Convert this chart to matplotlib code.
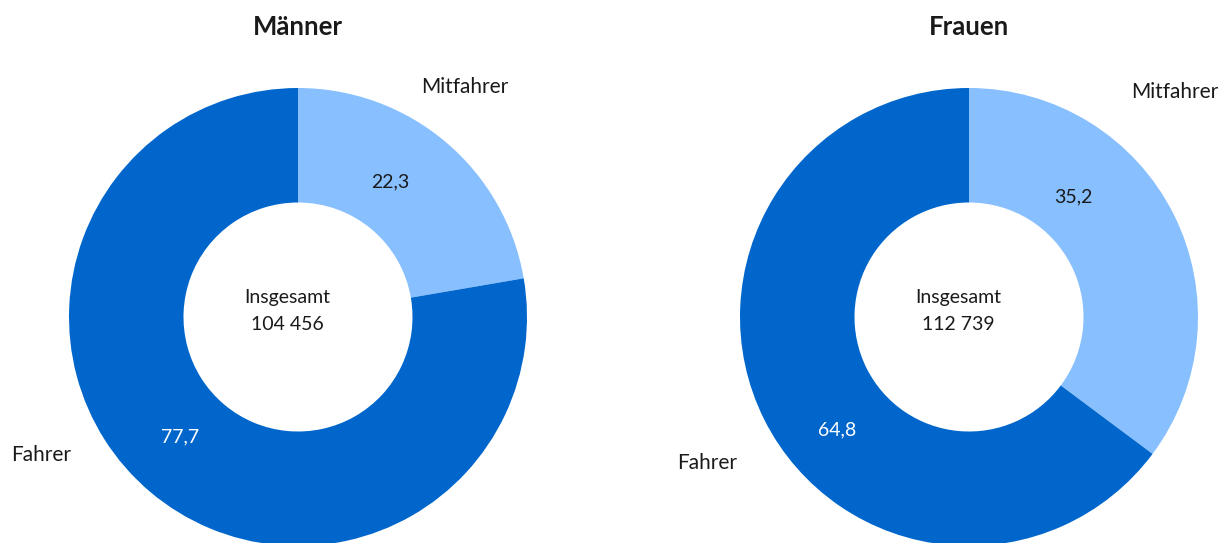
import matplotlib
matplotlib.use("Agg")
import matplotlib.pyplot as plt

plt.rcParams['font.family'] = ['Lato', 'DejaVu Sans']

titles = ["Männer", "Frauen"]
categories = ["Mitfahrer", "Fahrer"]
values_maenner = [22.3, 77.7]
values_frauen = [35.2, 64.8]
value_labels_maenner = ["22,3", "77,7"]
value_labels_frauen = ["35,2", "64,8"]
totals = ["104 456", "112 739"]

colors = ["#88C0FF", "#0066CC"]
label_colors = ["#1a1a1a", "#ffffff"]

W, H = 1226, 543
fig = plt.figure(figsize=(W / 100, H / 100), dpi=100)
ax = fig.add_axes([0, 0, 1, 1])
ax.set_xlim(0, W)
ax.set_ylim(0, H)
ax.set_aspect('equal')
ax.axis('off')

R = 229
centers = [(298, H - 317), (969, H - 317)]
value_sets = [values_maenner, values_frauen]
vlabel_sets = [value_labels_maenner, value_labels_frauen]
# positions of texts (pixels, y measured from top)
val_pos = [[(390, 182), (180, 437)], [(1073, 197), (837, 430)]]
cat_pos = [[(465, 87), (41, 455)], [(1175, 92), (707, 463)]]

for i in range(2):
    cx, cy = centers[i]
    ax.pie(value_sets[i], colors=colors, startangle=90, counterclock=False,
           center=(cx, cy), radius=R, wedgeprops=dict(width=R * 0.5, linewidth=0),
           frame=True)
    ax.text(cx, H - 27, titles[i], ha='center', va='center', fontsize=18.5,
            fontweight='bold', color='#1a1a1a')
    ax.text(cx - 11, H - 298, "Insgesamt", ha='center', va='center', fontsize=14, color='#1a1a1a')
    ax.text(cx - 11, H - 325, totals[i], ha='center', va='center', fontsize=14, color='#1a1a1a')
    for j in range(2):
        x, y = val_pos[i][j]
        ax.text(x, H - y, vlabel_sets[i][j], ha='center', va='center', fontsize=14,
                color=label_colors[j])
        x, y = cat_pos[i][j]
        ax.text(x, H - y, categories[j], ha='center', va='center', fontsize=15,
                color='#1a1a1a')

ax.set_xlim(0, W)
ax.set_ylim(0, H)
ax.axis('off')
fig.savefig("out.png", dpi=100, facecolor='white')
